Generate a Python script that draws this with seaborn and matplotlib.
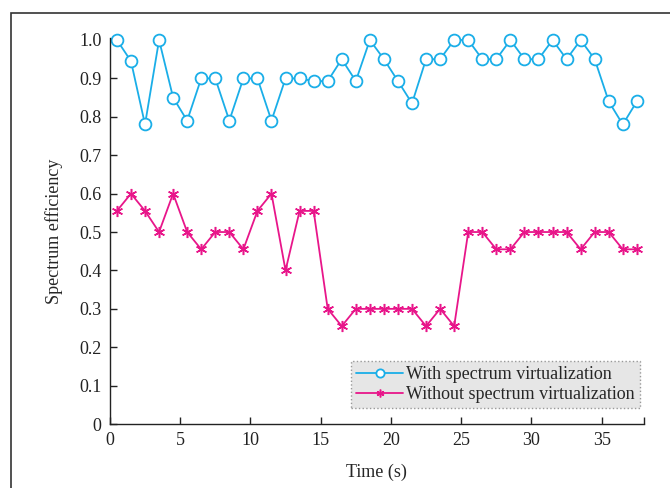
import seaborn as sns
import matplotlib.pyplot as plt
from matplotlib.patches import Rectangle

# data
time = [i + 0.5 for i in range(38)]
with_virt = [1.0, 0.945, 0.78, 1.0, 0.85, 0.79, 0.90, 0.90, 0.79, 0.90,
             0.90, 0.79, 0.90, 0.90, 0.893, 0.893, 0.95, 0.893, 1.0, 0.95,
             0.893, 0.835, 0.95, 0.95, 1.0, 1.0, 0.95, 0.95, 1.0, 0.95,
             0.95, 1.0, 0.95, 1.0, 0.95, 0.84, 0.78, 0.84]
without_virt = [0.555, 0.6, 0.555, 0.5, 0.6, 0.5, 0.455, 0.5, 0.5, 0.455,
                0.555, 0.6, 0.4, 0.555, 0.555, 0.3, 0.255, 0.3, 0.3, 0.3,
                0.3, 0.3, 0.255, 0.3, 0.255, 0.5, 0.5, 0.455, 0.455, 0.5,
                0.5, 0.5, 0.5, 0.455, 0.5, 0.5, 0.455, 0.455]
labels = ["With spectrum virtualization", "Without spectrum virtualization"]

sns.set_style("ticks")
plt.rcParams['font.family'] = ['Liberation Serif', 'DejaVu Serif']

fig = plt.figure(figsize=(6.7, 4.88), dpi=100)
ax = fig.add_axes([0.164, 0.131, 0.797, 0.791])

# figure border (cropped on the right/bottom)
fig.patches.append(Rectangle((11 / 670, -0.1), 1.2, 1 - 13 / 488 + 0.1,
                             transform=fig.transFigure, fill=False,
                             edgecolor="#333333", linewidth=1.2))

blue = "#1aaee8"
pink = "#e8168a"
sns.lineplot(x=time, y=with_virt, ax=ax, color=blue, linewidth=1.3,
             marker="o", markersize=8.5, markerfacecolor="white",
             markeredgecolor=blue, markeredgewidth=1.3, label=labels[0],
             clip_on=False)
sns.lineplot(x=time, y=without_virt, ax=ax, color=pink, linewidth=1.3,
             marker=(6, 2, 0), markersize=8, markeredgecolor=pink,
             markeredgewidth=1.1, label=labels[1], clip_on=False)

ax.set_xlim(0, 38)
ax.set_ylim(0, 1.005)
ax.set_xticks([0, 5, 10, 15, 20, 25, 30, 35])
ax.set_xticks([38], minor=True)
ax.set_yticks([0, 0.1, 0.2, 0.3, 0.4, 0.5, 0.6, 0.7, 0.8, 0.9, 1.0])
ax.set_yticklabels(["0", "0.1", "0.2", "0.3", "0.4", "0.5", "0.6", "0.7",
                    "0.8", "0.9", "1.0"])
ax.tick_params(which="both", direction="in", length=5, width=1,
               labelsize=13, colors="#222222", pad=6)
for s in ["top", "right"]:
    ax.spines[s].set_visible(False)
for s in ["left", "bottom"]:
    ax.spines[s].set_color("#222222")
    ax.spines[s].set_linewidth(1)

ax.set_xlabel("Time (s)", fontsize=13, labelpad=10)
ax.set_ylabel("Spectrum efficiency", fontsize=13, labelpad=12)

leg = ax.legend(loc="lower right", bbox_to_anchor=(0.993, 0.041), fontsize=13,
                frameon=True, fancybox=False, handlelength=2.6,
                handletextpad=0.15, borderpad=0.3, labelspacing=0.15,
                borderaxespad=0, markerscale=0.7)
leg.get_frame().set_facecolor("#e6e6e6")
leg.get_frame().set_edgecolor("#999999")
leg.get_frame().set_linestyle(":")
leg.get_frame().set_alpha(1)

plt.savefig("out.png", dpi=100)
